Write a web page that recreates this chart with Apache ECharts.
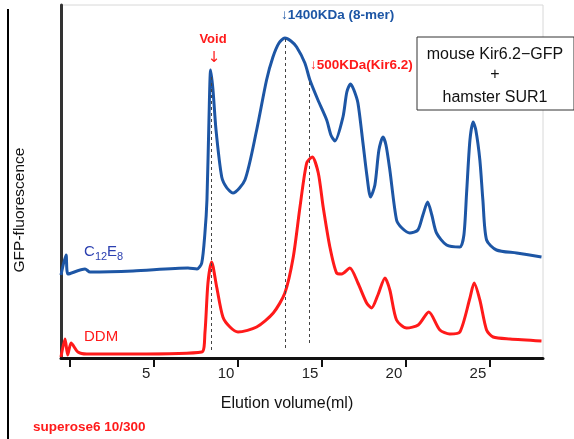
<!DOCTYPE html>
<html>
<head>
<meta charset="utf-8">
<script src="https://cdn.jsdelivr.net/npm/echarts@6/dist/echarts.min.js"></script>
<style>
  html, body { margin: 0; padding: 0; background: #fff; }
  #main { width: 574px; height: 439px; }
</style>
</head>
<body>
<div id="main"></div>
<script>
// elution volume (ml) / fluorescence (arbitrary units)
var c12e8Vol = [-0.5, -0.2, -0.08, 0.93, 1.23, 3.79, 7.06, 7.6, 7.88, 8.07, 8.19, 8.31, 8.41, 8.55, 8.73, 9.07, 9.38, 9.74,
  10.45, 11.15, 11.74, 12.12, 12.48, 12.83, 13.19, 13.53, 14.02, 14.32, 14.8, 15.32, 15.57, 15.81, 16.29, 16.52, 16.74,
  16.94, 17.18, 17.48, 17.71, 17.93, 18.19, 18.43, 18.67, 18.85, 19.08, 19.48, 19.8, 20.27, 20.75, 21.05, 21.33, 21.58,
  21.86, 22.46, 23.25, 23.49, 23.65, 23.85, 24.04, 24.2, 24.44, 24.62, 24.84, 25.43, 26.63, 28.11];
var c12e8Val = [83, 103, 84, 89, 86, 87, 90, 89, 95, 125, 158, 238, 288, 268, 228, 181, 170, 165,
  178, 228, 278, 301, 315, 320, 317, 311, 295, 278, 258, 238, 223, 217, 241, 266, 274,
  268, 255, 215, 183, 161, 173, 208, 221, 213, 188, 138, 130, 125, 128, 143, 156, 143,
  125, 113, 111, 123, 165, 218, 236, 228, 198, 158, 118, 108, 105, 101];

var ddmVol = [-0.5, -0.26, -0.1, 0.1, 0.51, 1.03, 3.79, 7.88, 8.07, 8.25, 8.47, 8.77, 9.14, 9.56, 10.04, 11.15, 12.14,
  12.83, 13.33, 13.73, 14.13, 14.46, 14.82, 15.11, 15.51, 15.91, 16.21, 16.7, 17.18, 17.7, 17.99, 18.37, 18.79, 19.08,
  19.48, 20.08, 20.77, 21.4, 22.06, 22.65, 23.25, 23.85, 24.1, 24.44, 24.84, 25.23, 26.23, 28.11];
var ddmVal = [1, 19, 3, 15, 6, 4, 4, 6, 25, 75, 96, 71, 41, 31, 26, 31, 45,
  65, 101, 151, 195, 201, 185, 151, 111, 85, 84, 90, 75, 55, 50, 63, 80, 68,
  38, 30, 33, 46, 28, 24, 26, 60, 75, 58, 28, 21, 19, 17];

// dashed markers: [volume, bottom, top]
var markerLines = [[8.44, 8, 282], [12.83, 10, 320], [14.29, 15, 278]];

var tickValues = [0, 5, 10, 15, 20, 25];
var labelValues = [5, 10, 15, 20, 25];

function pairs(xs, ys) {
  return xs.map(function (x, i) { return [x, ys[i]]; });
}

var chart = echarts.init(document.getElementById('main'));

var FONT = '"Liberation Sans"';

var option = {
  animation: false,
  grid: {
    left: 61, right: 31, top: 5, bottom: 81,
    show: true, borderColor: '#d8d8d8', borderWidth: 1
  },
  xAxis: {
    type: 'value',
    min: -0.5,
    max: 28.2,
    axisLine: { onZero: false, lineStyle: { color: '#111', width: 3 } },
    axisTick: { customValues: tickValues, length: 9, lineStyle: { color: '#111', width: 2 } },
    axisLabel: {
      customValues: labelValues, align: 'right', padding: [0, 3, 0, 0], margin: 8,
      color: '#222', fontSize: 15, fontFamily: 'Liberation Sans'
    },
    splitLine: { show: false }
  },
  yAxis: {
    type: 'value',
    min: 0,
    max: 353,
    axisLine: { show: true, onZero: false, lineStyle: { color: '#333', width: 3 } },
    axisTick: { show: false },
    axisLabel: { show: false },
    splitLine: { show: false }
  },
  series: [
    {
      name: 'C12E8',
      type: 'line',
      data: pairs(c12e8Vol, c12e8Val),
      smooth: 0.25,
      symbol: 'none',
      lineStyle: { color: '#1d56a5', width: 3 },
      markLine: {
        silent: true,
        symbol: 'none',
        label: { show: false },
        lineStyle: { color: '#444', type: [3, 3], width: 1 },
        data: markerLines.map(function (m) {
          return [{ coord: [m[0], m[1]] }, { coord: [m[0], m[2]] }];
        })
      }
    },
    {
      name: 'DDM',
      type: 'line',
      data: pairs(ddmVol, ddmVal),
      smooth: 0.25,
      symbol: 'none',
      lineStyle: { color: '#ff1a1a', width: 3 }
    }
  ],
  graphic: [
    { type: 'line', shape: { x1: 8, y1: 9, x2: 8, y2: 439 }, style: { stroke: '#000', lineWidth: 2 } },
    {
      type: 'text', x: 20, y: 210, rotation: Math.PI / 2,
      style: { text: 'GFP-fluorescence', fill: '#111', font: '15.5px ' + FONT, align: 'center', verticalAlign: 'middle' }
    },
    {
      type: 'text', x: 287, y: 404,
      style: { text: 'Elution volume(ml)', fill: '#111', font: '16px ' + FONT, align: 'center', verticalAlign: 'middle' }
    },
    {
      type: 'text', x: 33, y: 427,
      style: { text: 'superose6 10/300', fill: '#ff1a1a', font: 'bold 13.5px ' + FONT, verticalAlign: 'middle' }
    },
    {
      type: 'text', x: 213, y: 39,
      style: { text: 'Void', fill: '#ff1a1a', font: 'bold 13px ' + FONT, align: 'center', verticalAlign: 'middle' }
    },
    {
      type: 'text', x: 214, y: 58,
      style: { text: '↓', fill: '#ff1a1a', font: '15px "DejaVu Sans"', align: 'center', verticalAlign: 'middle' }
    },
    {
      type: 'text', x: 281, y: 15,
      style: { text: '↓1400KDa (8-mer)', fill: '#1d56a5', font: 'bold 13.5px ' + FONT, verticalAlign: 'middle' }
    },
    {
      type: 'text', x: 310, y: 65,
      style: { text: '↓500KDa(Kir6.2)', fill: '#ff1a1a', font: 'bold 13.5px ' + FONT, verticalAlign: 'middle' }
    },
    // C12E8 with subscripts
    { type: 'text', x: 84, y: 252, style: { text: 'C', fill: '#2b3fb0', font: '15px ' + FONT, verticalAlign: 'middle' } },
    { type: 'text', x: 95, y: 257, style: { text: '12', fill: '#2b3fb0', font: '11px ' + FONT, verticalAlign: 'middle' } },
    { type: 'text', x: 107, y: 252, style: { text: 'E', fill: '#2b3fb0', font: '15px ' + FONT, verticalAlign: 'middle' } },
    { type: 'text', x: 117, y: 257, style: { text: '8', fill: '#2b3fb0', font: '11px ' + FONT, verticalAlign: 'middle' } },
    {
      type: 'text', x: 84, y: 337,
      style: { text: 'DDM', fill: '#ff1a1a', font: '15px ' + FONT, verticalAlign: 'middle' }
    },
    {
      type: 'rect', shape: { x: 417, y: 37, width: 157, height: 73 },
      style: { fill: '#fff', stroke: '#333', lineWidth: 1 }
    },
    {
      type: 'text', x: 495, y: 55,
      style: { text: 'mouse Kir6.2−GFP', fill: '#111', font: '16px ' + FONT, align: 'center', verticalAlign: 'middle' }
    },
    {
      type: 'text', x: 495, y: 75,
      style: { text: '+', fill: '#111', font: '16px ' + FONT, align: 'center', verticalAlign: 'middle' }
    },
    {
      type: 'text', x: 495, y: 98,
      style: { text: 'hamster SUR1', fill: '#111', font: '16px ' + FONT, align: 'center', verticalAlign: 'middle' }
    }
  ]
};

chart.setOption(option);
</script>
</body>
</html>
